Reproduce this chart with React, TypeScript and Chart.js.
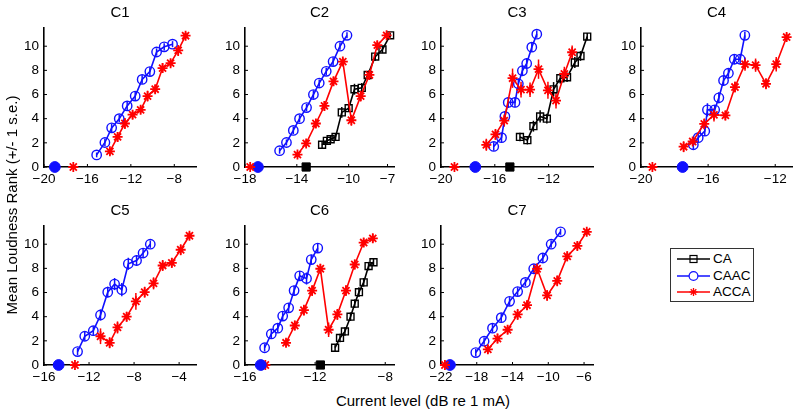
import React, { useEffect, useRef } from 'react';
import { Chart, registerables } from 'chart.js';
Chart.register(...registerables);

const FONT = '"Liberation Sans", Arial, Helvetica, sans-serif';

// ---------- C1 ----------
const c1CaacX = [-15.15, -14.39, -13.77, -13.07, -12.34, -11.6, -10.96, -10.25, -9.63, -8.93, -8.16];
const c1CaacY = [1.0, 2.03, 3.24, 4.0, 5.06, 5.87, 7.25, 7.9, 9.52, 9.95, 10.17];
const c1CaacErr = [0.2, 0.3, 0.35, 0.3, 0.35, 0.4, 0.35, 0.35, 0.3, 0.3, 0.25];
const c1AccaX = [-13.93, -13.22, -12.55, -11.84, -11.1, -10.46, -9.76, -9.08, -8.34, -7.64, -6.96];
const c1AccaY = [1.3, 2.49, 3.6, 4.33, 4.73, 5.87, 6.44, 8.19, 8.6, 9.65, 10.87];
const c1AccaErr = [0.3, 0.4, 0.45, 0.35, 0.3, 0.45, 0.35, 0.4, 0.3, 0.45, 0.3];
const c1Thresh = { CAAC: -19.0, ACCA: -17.3 };

// ---------- C2 ----------
const c2CaacX = [-15.33, -14.8, -14.27, -13.79, -13.25, -12.72, -12.27, -11.73, -11.2, -10.67, -10.13];
const c2CaacY = [1.35, 2.03, 3.03, 4.0, 4.92, 6.0, 6.95, 7.92, 8.73, 10.0, 10.9];
const c2CaacErr = [0.25, 0.25, 0.3, 0.3, 0.3, 0.35, 0.3, 0.3, 0.35, 0.3, 0.25];
const c2AccaX = [-13.95, -13.28, -12.53, -11.87, -11.17, -10.45, -9.79, -9.07, -8.4, -7.79, -7.07];
const c2AccaY = [1.03, 1.95, 3.6, 5.06, 7.09, 8.73, 3.87, 5.87, 7.62, 10.09, 10.9];
const c2AccaErr = [0.25, 0.3, 0.35, 0.4, 0.35, 0.3, 0.45, 0.45, 0.35, 0.35, 0.2];
const c2CaX = [-12.05, -11.68, -11.39, -11.01, -10.53, -10.0, -9.55, -8.99, -8.53, -7.95, -7.39, -6.8];
const c2CaY = [1.84, 2.17, 2.3, 2.49, 4.52, 4.87, 6.44, 6.55, 7.62, 9.14, 9.73, 10.9];
const c2CaErr = [0.3, 0.3, 0.3, 0.3, 0.45, 0.3, 0.45, 0.4, 0.3, 0.35, 0.3, 0.2];
const c2Thresh = { ACCA: -17.6, CAAC: -17.0, CA: -13.28 };

// ---------- C3 ----------
const c3CaacX = [-16.08, -15.5, -15.25, -15.0, -14.5, -14.25, -13.95, -13.63, -13.25, -12.88];
const c3CaacY = [1.7, 2.43, 4.19, 5.35, 5.35, 6.89, 7.97, 8.57, 9.92, 11.0];
const c3CaacErr = [0.35, 0.4, 0.4, 0.45, 0.4, 0.45, 0.4, 0.45, 0.4, 0.3];
const c3AccaX = [-16.63, -15.95, -15.3, -14.68, -14.05, -13.38, -12.75, -12.05, -11.45, -10.83, -10.25];
const c3AccaY = [1.84, 2.7, 3.84, 7.35, 6.4, 6.4, 8.1, 6.35, 5.5, 7.7, 9.5];
const c3AccaErr = [0.5, 0.45, 0.5, 0.8, 0.65, 0.6, 0.8, 0.7, 0.65, 0.6, 0.55];
const c3CaX = [-14.13, -13.58, -13.13, -12.63, -12.13, -11.63, -11.13, -10.63, -10.05, -9.63, -9.13];
const c3CaY = [2.49, 2.22, 3.38, 4.19, 4.0, 6.43, 7.35, 7.43, 8.65, 9.19, 10.8];
const c3CaErr = [0.35, 0.35, 0.45, 0.5, 0.4, 0.6, 0.45, 0.4, 0.45, 0.4, 0.3];
const c3Thresh = { ACCA: -19.0, CAAC: -17.45, CA: -14.88 };

// ---------- C4 ----------
const c4CaacX = [-16.88, -16.59, -16.2, -16.04, -15.61, -15.36, -15.08, -14.79, -14.44, -14.09, -13.81];
const c4CaacY = [1.84, 2.43, 2.97, 4.73, 4.73, 5.73, 7.16, 7.76, 8.92, 8.92, 10.9];
const c4CaacErr = [0.35, 0.35, 0.4, 0.55, 0.4, 0.45, 0.4, 0.4, 0.4, 0.35, 0.3];
const c4AccaX = [-17.46, -16.92, -16.23, -15.65, -14.97, -14.4, -13.8, -13.17, -12.55, -11.94, -11.32];
const c4AccaY = [1.68, 2.11, 3.57, 4.32, 4.27, 6.62, 8.51, 8.43, 6.89, 8.51, 10.76];
const c4AccaErr = [0.45, 0.35, 0.45, 0.55, 0.4, 0.45, 0.55, 0.55, 0.45, 0.6, 0.3];
const c4Thresh = { ACCA: -19.32, CAAC: -17.52 };

// ---------- C5 ----------
const c5CaacX = [-13.02, -12.38, -11.62, -10.98, -10.34, -9.73, -9.09, -8.51, -7.78, -7.2, -6.56];
const c5CaacY = [1.11, 2.38, 2.84, 4.14, 6.03, 6.7, 6.24, 8.38, 8.65, 9.27, 10.0];
const c5CaacErr = [0.3, 0.35, 0.35, 0.45, 0.45, 0.5, 0.55, 0.5, 0.45, 0.4, 0.3];
const c5AccaX = [-10.98, -10.17, -9.47, -8.66, -7.84, -7.06, -6.27, -5.46, -4.65, -3.86, -3.08];
const c5AccaY = [2.38, 1.84, 3.11, 4.0, 5.27, 6.03, 6.76, 8.24, 8.46, 9.54, 10.7];
const c5AccaErr = [0.65, 0.45, 0.5, 0.4, 0.7, 0.45, 0.5, 0.45, 0.4, 0.45, 0.3];
const c5Thresh = { CAAC: -14.7, ACCA: -13.25 };

// ---------- C6 ----------
const c6CaacX = [-14.88, -14.5, -14.13, -13.85, -13.51, -13.2, -12.88, -12.49, -12.22, -11.85];
const c6CaacY = [1.43, 2.57, 3.05, 4.05, 4.73, 6.16, 7.38, 7.16, 8.73, 9.68];
const c6CaacErr = [0.3, 0.35, 0.35, 0.35, 0.4, 0.4, 0.4, 0.5, 0.4, 0.35];
const c6AccaX = [-13.66, -13.16, -12.64, -12.17, -11.7, -11.23, -10.73, -10.24, -9.74, -9.23, -8.71];
const c6AccaY = [1.84, 3.27, 4.54, 6.16, 7.97, 2.92, 4.19, 6.16, 8.32, 10.14, 10.49];
const c6AccaErr = [0.3, 0.4, 0.45, 0.45, 0.4, 0.6, 0.45, 0.45, 0.4, 0.35, 0.35];
const c6CaX = [-10.86, -10.58, -10.3, -9.98, -9.74, -9.5, -9.23, -8.95, -8.67];
const c6CaY = [1.43, 2.24, 2.78, 4.0, 5.08, 6.03, 6.84, 8.19, 8.51];
const c6CaErr = [0.3, 0.35, 0.35, 0.35, 0.35, 0.4, 0.35, 0.35, 0.3];
const c6Thresh = { CAAC: -15.1, ACCA: -14.84, CA: -11.7 };

// ---------- C7 ----------
const c7CaacX = [-18.11, -17.18, -16.24, -15.26, -14.33, -13.43, -12.56, -11.63, -10.61, -9.68, -8.63];
const c7CaacY = [1.03, 1.97, 3.05, 3.92, 5.27, 6.08, 6.84, 7.97, 8.86, 10.0, 11.03];
const c7CaacErr = [0.3, 0.3, 0.35, 0.35, 0.35, 0.35, 0.3, 0.35, 0.35, 0.3, 0.25];
const c7AccaX = [-16.76, -15.68, -14.55, -13.43, -12.38, -11.25, -10.13, -9.0, -7.88, -6.75, -5.7];
const c7AccaY = [1.3, 2.19, 2.92, 4.19, 4.95, 7.97, 5.76, 6.97, 9.0, 9.86, 11.03];
const c7AccaErr = [0.35, 0.4, 0.35, 0.45, 0.4, 0.45, 0.45, 0.45, 0.4, 0.35, 0.25];
const c7Thresh = { ACCA: -21.56, CAAC: -21.0 };

// ---------- axes ----------
const yTicks = [0, 2, 4, 6, 8, 10];
const Y_MAX = 11.5;
const c1XTicks = [-20, -16, -12, -8];
const c2XTicks = [-18, -14, -10, -7];
const c3XTicks = [-20, -16, -12];
const c4XTicks = [-20, -16, -12];
const c5XTicks = [-16, -12, -8, -4];
const c6XTicks = [-16, -12, -8];
const c7XTicks = [-22, -18, -14, -10, -6];

type Kind = 'CA' | 'CAAC' | 'ACCA';
const STYLES: Record<Kind, { color: string; pointStyle: string; radius: number; bw: number }> = {
  CA: { color: '#000000', pointStyle: 'rect', radius: 4.9, bw: 1.4 },
  CAAC: { color: '#1010ff', pointStyle: 'circle', radius: 4.7, bw: 1.4 },
  ACCA: { color: '#ff0000', pointStyle: 'star', radius: 5, bw: 1.8 },
};

interface SeriesDef { kind: Kind; x: number[]; y: number[]; err: number[] }
interface PanelDef {
  title: string; xMin: number; xMax: number; xTicks: number[];
  axLeft: number; axTop: number; axWidth: number;
  series: SeriesDef[]; thresholds: Partial<Record<Kind, number>>;
}

const AX_H = 142;
const Y_AXIS_W = 40;
const X_AXIS_H = 24;
const PAD_TOP = 10;
const PAD_RIGHT = 16;
const ROW1 = 25;
const ROW2 = 222.5;

const PANELS: PanelDef[] = [
  { title: 'C1', xMin: -20, xMax: -6, xTicks: c1XTicks, axLeft: 44, axTop: ROW1, axWidth: 152,
    series: [
      { kind: 'CAAC', x: c1CaacX, y: c1CaacY, err: c1CaacErr },
      { kind: 'ACCA', x: c1AccaX, y: c1AccaY, err: c1AccaErr },
    ], thresholds: c1Thresh },
  { title: 'C2', xMin: -18, xMax: -6.5, xTicks: c2XTicks, axLeft: 245, axTop: ROW1, axWidth: 149,
    series: [
      { kind: 'CA', x: c2CaX, y: c2CaY, err: c2CaErr },
      { kind: 'CAAC', x: c2CaacX, y: c2CaacY, err: c2CaacErr },
      { kind: 'ACCA', x: c2AccaX, y: c2AccaY, err: c2AccaErr },
    ], thresholds: c2Thresh },
  { title: 'C3', xMin: -20, xMax: -8.7, xTicks: c3XTicks, axLeft: 441, axTop: ROW1, axWidth: 152,
    series: [
      { kind: 'CA', x: c3CaX, y: c3CaY, err: c3CaErr },
      { kind: 'CAAC', x: c3CaacX, y: c3CaacY, err: c3CaacErr },
      { kind: 'ACCA', x: c3AccaX, y: c3AccaY, err: c3AccaErr },
    ], thresholds: c3Thresh },
  { title: 'C4', xMin: -20, xMax: -11, xTicks: c4XTicks, axLeft: 641, axTop: ROW1, axWidth: 151,
    series: [
      { kind: 'CAAC', x: c4CaacX, y: c4CaacY, err: c4CaacErr },
      { kind: 'ACCA', x: c4AccaX, y: c4AccaY, err: c4AccaErr },
    ], thresholds: c4Thresh },
  { title: 'C5', xMin: -16, xMax: -2.5, xTicks: c5XTicks, axLeft: 44, axTop: ROW2, axWidth: 152,
    series: [
      { kind: 'CAAC', x: c5CaacX, y: c5CaacY, err: c5CaacErr },
      { kind: 'ACCA', x: c5AccaX, y: c5AccaY, err: c5AccaErr },
    ], thresholds: c5Thresh },
  { title: 'C6', xMin: -16, xMax: -7.5, xTicks: c6XTicks, axLeft: 245, axTop: ROW2, axWidth: 149,
    series: [
      { kind: 'CA', x: c6CaX, y: c6CaY, err: c6CaErr },
      { kind: 'CAAC', x: c6CaacX, y: c6CaacY, err: c6CaacErr },
      { kind: 'ACCA', x: c6AccaX, y: c6AccaY, err: c6AccaErr },
    ], thresholds: c6Thresh },
  { title: 'C7', xMin: -22, xMax: -5, xTicks: c7XTicks, axLeft: 441, axTop: ROW2, axWidth: 152,
    series: [
      { kind: 'CAAC', x: c7CaacX, y: c7CaacY, err: c7CaacErr },
      { kind: 'ACCA', x: c7AccaX, y: c7AccaY, err: c7AccaErr },
    ], thresholds: c7Thresh },
];

const errorBarPlugin = {
  id: 'errorBars',
  beforeDatasetsDraw(chart: any) {
    const ctx = chart.ctx;
    const yScale = chart.scales.y;
    chart.data.datasets.forEach((ds: any, i: number) => {
      const errs: number[] | undefined = ds.errs;
      if (!errs) return;
      const meta = chart.getDatasetMeta(i);
      ctx.save();
      ctx.strokeStyle = ds.borderColor;
      ctx.lineWidth = 1.5;
      meta.data.forEach((el: any, j: number) => {
        const v = ds.data[j].y;
        const e = errs[j];
        ctx.beginPath();
        ctx.moveTo(el.x, yScale.getPixelForValue(v + e));
        ctx.lineTo(el.x, yScale.getPixelForValue(v - e));
        ctx.stroke();
      });
      ctx.restore();
    });
  },
};

const innerTickPlugin = {
  id: 'innerTicks',
  beforeDatasetsDraw(chart: any) {
    const ctx = chart.ctx;
    const { left, right, bottom, top } = chart.chartArea;
    ctx.save();
    ctx.strokeStyle = '#000';
    ctx.lineWidth = 1;
    chart.scales.x.ticks.forEach((t: any) => {
      const px = chart.scales.x.getPixelForValue(t.value);
      if (px < left - 0.5 || px > right + 0.5) return;
      ctx.beginPath();
      ctx.moveTo(px, bottom);
      ctx.lineTo(px, bottom - 3);
      ctx.stroke();
    });
    chart.scales.y.ticks.forEach((t: any) => {
      const py = chart.scales.y.getPixelForValue(t.value);
      if (py < top - 0.5 || py > bottom + 0.5) return;
      ctx.beginPath();
      ctx.moveTo(left, py);
      ctx.lineTo(left + 3, py);
      ctx.stroke();
    });
    ctx.restore();
  },
};

const fmt = (v: number | string) => String(v).replace('-', '\u2212');

function Panel({ p }: { p: PanelDef }) {
  const ref = useRef<HTMLCanvasElement>(null);
  const w = p.axWidth + Y_AXIS_W + PAD_RIGHT;
  const h = AX_H + PAD_TOP + X_AXIS_H;
  useEffect(() => {
    if (!ref.current) return;
    const datasets: any[] = [];
    p.series.forEach((s, k) => {
      const st = STYLES[s.kind];
      datasets.push({
        label: s.kind,
        data: s.x.map((x, i) => ({ x, y: s.y[i] })),
        errs: s.err,
        showLine: true,
        borderColor: st.color,
        backgroundColor: 'rgba(0,0,0,0)',
        borderWidth: 1.6,
        pointStyle: st.pointStyle,
        pointRadius: st.radius,
        pointBorderWidth: st.bw,
        pointBorderColor: st.color,
        pointBackgroundColor: 'rgba(0,0,0,0)',
        tension: 0,
        fill: false,
        clip: false,
        order: 10 - k,
      });
    });
    (Object.keys(p.thresholds) as Kind[]).forEach((kind) => {
      const st = STYLES[kind];
      const xv = p.thresholds[kind] as number;
      datasets.push({
        label: kind + ' threshold',
        data: [{ x: xv, y: 0 }],
        showLine: false,
        borderColor: st.color,
        pointStyle: st.pointStyle,
        pointRadius: kind === 'ACCA' ? 5 : kind === 'CA' ? 5.8 : 5.4,
        pointBorderWidth: kind === 'ACCA' ? 1.8 : 1,
        pointBorderColor: st.color,
        pointBackgroundColor: kind === 'ACCA' ? 'rgba(0,0,0,0)' : st.color,
        clip: false,
        order: 0,
      });
    });
    const chart = new Chart(ref.current, {
      type: 'scatter',
      data: { datasets },
      options: {
        animation: false,
        responsive: false,
        maintainAspectRatio: false,
        events: [],
        layout: { padding: { top: PAD_TOP, right: PAD_RIGHT, left: 0, bottom: 0 } },
        plugins: { legend: { display: false }, tooltip: { enabled: false }, title: { display: false } },
        scales: {
          x: {
            type: 'linear',
            min: p.xMin,
            max: p.xMax,
            grid: { display: false, drawTicks: false },
            border: { display: true, color: '#000', width: 1.6 },
            ticks: {
              color: '#000', font: { family: FONT, size: 13.5 }, padding: 4,
              maxRotation: 0, autoSkip: false, callback: (v: any) => fmt(v),
            },
            afterBuildTicks: (s: any) => { s.ticks = p.xTicks.map((v) => ({ value: v })); },
            afterFit: (s: any) => { s.height = X_AXIS_H; },
          },
          y: {
            type: 'linear',
            min: 0,
            max: Y_MAX,
            grid: { display: false, drawTicks: false },
            border: { display: true, color: '#000', width: 1.6 },
            ticks: { color: '#000', font: { family: FONT, size: 13.5 }, padding: 5, callback: (v: any) => fmt(v) },
            afterBuildTicks: (s: any) => { s.ticks = yTicks.map((v) => ({ value: v })); },
            afterFit: (s: any) => { s.width = Y_AXIS_W; },
          },
        },
      } as any,
      plugins: [innerTickPlugin, errorBarPlugin],
    });
    return () => chart.destroy();
  }, []);
  return (
    <>
      <canvas
        ref={ref}
        width={w}
        height={h}
        style={{ position: 'absolute', left: p.axLeft - Y_AXIS_W, top: p.axTop - PAD_TOP, width: w, height: h }}
      />
      <div
        style={{
          position: 'absolute', left: p.axLeft, width: p.axWidth, top: p.axTop - 22,
          textAlign: 'center', font: `15px ${FONT}`, lineHeight: '17px', color: '#000',
        }}
      >
        {p.title}
      </div>
    </>
  );
}

function LegendMarker({ kind }: { kind: Kind }) {
  const c = STYLES[kind].color;
  return (
    <svg width={34} height={14} style={{ position: 'absolute', left: 6, top: 0 }}>
      <line x1={0} y1={7} x2={33} y2={7} stroke={c} strokeWidth={1.6} />
      {kind === 'CA' && <rect x={13} y={3.5} width={7} height={7} fill="none" stroke={c} strokeWidth={1.2} />}
      {kind === 'CAAC' && <circle cx={16.5} cy={7} r={4.4} fill="#fff" stroke={c} strokeWidth={1.2} />}
      {kind === 'ACCA' && (
        <g stroke={c} strokeWidth={1.3}>
          <line x1={16.5} y1={3} x2={16.5} y2={11} />
          <line x1={12.5} y1={7} x2={20.5} y2={7} />
          <line x1={13.7} y1={4.2} x2={19.3} y2={9.8} />
          <line x1={13.7} y1={9.8} x2={19.3} y2={4.2} />
        </g>
      )}
    </svg>
  );
}

const legendKinds: Kind[] = ['CA', 'CAAC', 'ACCA'];

export default function App() {
  return (
    <div style={{ position: 'fixed', left: 0, top: 0, width: 797, height: 411, background: '#fff', overflow: 'hidden' }}>
      {PANELS.map((p) => <Panel key={p.title} p={p} />)}
      <div
        style={{
          position: 'absolute', left: 12 - 120, top: 205 - 9, width: 240, height: 18,
          transform: 'rotate(-90deg)', transformOrigin: '50% 50%', textAlign: 'center',
          font: `15px ${FONT}`, lineHeight: '18px', color: '#000', whiteSpace: 'nowrap',
        }}
      >
        Mean Loudness Rank (+/- 1 s.e.)
      </div>
      <div
        style={{
          position: 'absolute', left: 223, width: 400, top: 392, textAlign: 'center',
          font: `15px ${FONT}`, lineHeight: '18px', color: '#000', whiteSpace: 'nowrap',
        }}
      >
        Current level (dB re 1 mA)
      </div>
      <div
        style={{
          position: 'absolute', left: 670, top: 248, width: 84, height: 54, boxSizing: 'border-box',
          border: '1px solid #333', background: '#fff',
        }}
      >
        {legendKinds.map((k, i) => (
          <div key={k} style={{ position: 'absolute', left: 0, top: 3 + i * 16.7, width: 82, height: 14 }}>
            <LegendMarker kind={k} />
            <span style={{ position: 'absolute', left: 42, top: -2, font: `13.5px ${FONT}`, lineHeight: '17px', color: '#000' }}>{k}</span>
          </div>
        ))}
      </div>
    </div>
  );
}
